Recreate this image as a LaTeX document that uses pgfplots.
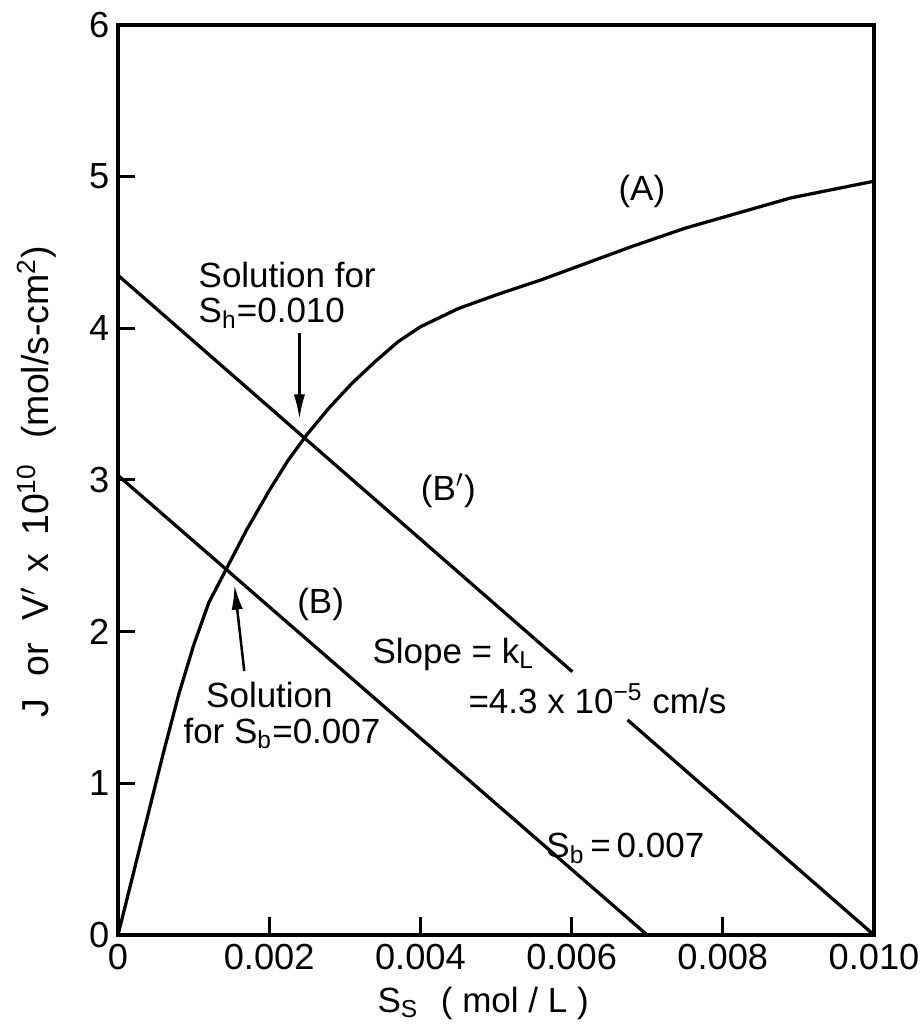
\documentclass[border=0pt]{standalone}
\usepackage{fontspec}
\setmainfont{Liberation Sans}
\usepackage{pgfplots}
\pgfplotsset{compat=1.18}
\usetikzlibrary{arrows.meta}
\newcommand{\annfont}{\fontsize{14}{16}\selectfont}
\begin{document}
\begin{tikzpicture}
\begin{axis}[
  scale only axis, width=302.4pt, height=364pt,
  xmin=0, xmax=0.010, ymin=0, ymax=6,
  axis line style={line width=1.6pt},
  tick align=inside, tick pos=left,
  major tick length=7pt,
  every tick/.style={black, line width=1.2pt},
  xtick={0,0.002,0.004,0.006,0.008,0.010},
  xticklabels={0,0.002,0.004,0.006,0.008,0.010},
  ytick={0,1,2,3,4,5,6},
  scaled x ticks=false,
  tick label style={font=\fontsize{14.5}{17}\selectfont},
  /pgf/number format/assume math mode=true,
  clip=false,
]
% curve (A)
\addplot[black, line width=1.3pt] coordinates {
 (0,0) (0.0002,0.40) (0.0004,0.80) (0.0006,1.20) (0.0008,1.58) (0.0010,1.91)
 (0.0012,2.19) (0.00145,2.43) (0.0017,2.67) (0.0020,2.93) (0.00225,3.13)
 (0.0025,3.30) (0.0028,3.48) (0.0031,3.64) (0.0034,3.78) (0.0037,3.91)
 (0.0040,4.01) (0.0045,4.13) (0.0050,4.22) (0.0056,4.32) (0.0062,4.43)
 (0.0068,4.54) (0.0075,4.66) (0.0082,4.76) (0.0089,4.86) (0.0095,4.92) (0.0100,4.97)};
% line (B)
\addplot[black, line width=1.3pt] coordinates {(0,3.03) (0.007,0)};
% line (B')
\addplot[black, line width=1.3pt] coordinates {(0,4.35) (0.00601,1.736)};
\addplot[black, line width=1.3pt] coordinates {(0.00674,1.418) (0.010,0)};
% arrows
\addplot[black, line width=1pt, -{Latex[length=10pt,width=4.5pt]}] coordinates {(0.0024,3.97) (0.0024,3.40)};
\addplot[black, line width=1pt, -{Latex[length=10pt,width=4.5pt]}] coordinates {(0.00167,1.74) (0.00154,2.31)};
% annotations
\node[font=\annfont] at (axis cs:0.00693,4.90) {(A)};
\node[font=\annfont, anchor=west] at (axis cs:0.00095,4.35) {Solution for};
\node[font=\annfont, anchor=west] at (axis cs:0.00095,4.10) {S\textsubscript{h}=0.010};
\node[font=\annfont] at (axis cs:0.00437,2.93) {(B$'$)};
\node[font=\annfont] at (axis cs:0.00268,2.18) {(B)};
\node[font=\annfont, anchor=west] at (axis cs:0.00325,1.85) {Slope = k\textsubscript{L}};
\node[font=\annfont, anchor=west] at (axis cs:0.00452,1.56) {=4.3 x 10\textsuperscript{−5} cm/s};
\node[font=\annfont, anchor=west] at (axis cs:0.00105,1.58) {Solution};
\node[font=\annfont, anchor=west] at (axis cs:0.00075,1.33) {for S\textsubscript{b}=0.007};
\node[font=\annfont, anchor=west] at (axis cs:0.00555,0.57) {S\textsubscript{b}\,=\,0.007};
\node[font=\annfont] at (rel axis cs:0.483,-0.0747) {S\textsubscript{S}\hspace{9pt}( mol / L )};
\node[font=\fontsize{15}{17}\selectfont, rotate=90] at (rel axis cs:-0.107,0.498) {J\hspace{9pt}or\hspace{9pt}V$'$\hspace{6pt}x\hspace{7pt}10\textsuperscript{10}\hspace{10pt}(mol/s-cm\textsuperscript{2})};
\end{axis}
\pgfresetboundingbox
\path[use as bounding box] ([shift={(-47.2pt,-39.2pt)}]current axis.south west) rectangle ([shift={(18pt,10pt)}]current axis.north east);
\end{tikzpicture}
\end{document}
